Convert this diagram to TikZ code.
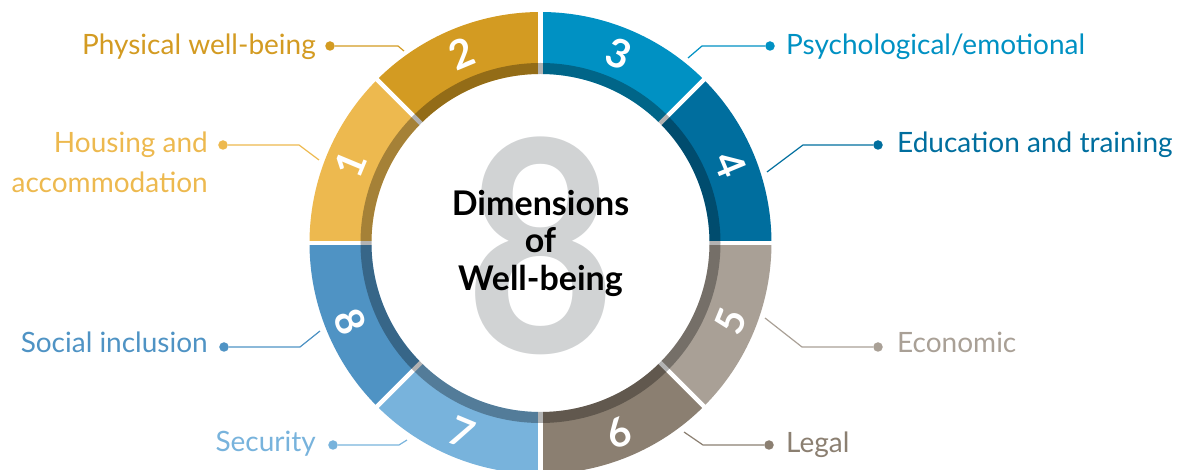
\documentclass[tikz,border=0pt]{standalone}
\usepackage{fontspec}
\setmainfont{Lato}
\usepackage{graphicx}
\definecolor{cOne}{HTML}{EDB94F}
\definecolor{cTwo}{HTML}{D39B22}
\definecolor{cThree}{HTML}{0091C3}
\definecolor{cFour}{HTML}{006E9E}
\definecolor{cFive}{HTML}{A9A096}
\definecolor{cSix}{HTML}{8B7F71}
\definecolor{cSeven}{HTML}{78B3DC}
\definecolor{cEight}{HTML}{4F93C4}
\definecolor{bigGray}{HTML}{D1D3D4}
\begin{document}
\begin{tikzpicture}[x=1pt,y=1pt,
  lbl/.style={font=\fontsize{28}{30}\selectfont, inner sep=0pt},
  digit/.style={text=white, font=\bfseries\fontsize{40}{40}\selectfont, inner sep=0pt},
  dot/.style={circle, fill, inner sep=0pt, minimum size=9.5pt},
  leader/.style={line width=1.2pt},
  gap/.style={white, line width=4.5pt}]
\useasboundingbox (-540.5,243) rectangle (639.5,-227);

% ring segments (outer radius 231, inner radius 169)
\foreach \a/\c in {135/cOne, 90/cTwo, 45/cThree, 0/cFour, -45/cFive, -90/cSix, -135/cSeven, -180/cEight}{
  \fill[\c] (\a:231) arc[start angle=\a, end angle=\a+45, radius=231]
    -- ({\a+45}:169) arc[start angle=\a+45, end angle=\a, radius=169] -- cycle;
}
% white gaps between segments
\foreach \a in {0,45,...,315}{
  \draw[gap] (\a:160) -- (\a:236);
}
% darker inner band
\fill[black, opacity=0.3, even odd rule] (0,0) circle[radius=180] (0,0) circle[radius=169];

% segment numbers
\node[digit, rotate=67.5]  (n1) at (157.5:205.5) {1};
\node[digit, rotate=22.5]  (n2) at (112.5:205.5) {2};
\node[digit, rotate=-22.5] (n3) at (67.5:205.5) {3};
\node[digit, rotate=-67.5] (n4) at (22.5:205.5) {4};
\node[digit, rotate=67.5]  (n5) at (-22.5:205.5) {5};
\node[digit, rotate=22.5]  (n6) at (-67.5:205.5) {6};
\node[digit, rotate=-22.5] (n7) at (-112.5:205.5) {7};
\node[digit, rotate=-67.5] (n8) at (-157.5:205.5) {8};

% centre
\node[text=bigGray, inner sep=0pt, font=\bfseries\fontsize{295}{295}\selectfont] (bigeight) at (0.5,-3) {\scalebox{0.88}[1]{8}};
\node[align=center, inner sep=0pt, font=\bfseries\fontsize{34}{37.5}\selectfont] (title) at (0,0) {Dimensions\\of\\Well-being};

% 1 Housing and accommodation
\node[dot, cOne] (d1) at (-317.5,98) {};
\coordinate (k1) at (-241.5,98);
\coordinate (e1) at (-221.5,83);
\draw[leader, cOne] (d1) -- (k1) -- (e1);
\node[lbl, text=cOne, anchor=base east] (t1a) at (-332.5,90) {Housing and};
\node[lbl, text=cOne, anchor=base east] (t1b) at (-332.5,50) {accommodation};

% 2 Physical well-being
\node[dot, cTwo] (d2) at (-210.5,197) {};
\coordinate (k2) at (-142.5,197);
\coordinate (e2) at (-136.5,192);
\draw[leader, cTwo] (d2) -- (k2) -- (e2);
\node[lbl, text=cTwo, anchor=base east] (t2) at (-224.5,188) {Physical well-being};

% 3 Psychological/emotional
\node[dot, cThree] (d3) at (229.5,197) {};
\coordinate (k3) at (161.5,197);
\coordinate (e3) at (147.5,185);
\draw[leader, cThree] (d3) -- (k3) -- (e3);
\node[lbl, text=cThree, anchor=base west] (t3) at (245.5,188) {Psychological/emotional};

% 4 Education and training
\node[dot, cFour] (d4) at (337.5,98) {};
\coordinate (k4) at (262.5,98);
\coordinate (e4) at (226.5,71);
\draw[leader, cFour] (d4) -- (k4) -- (e4);
\node[lbl, text=cFour, anchor=base west] (t4) at (356.5,90) {Education and training};

% 5 Economic
\node[dot, cFive] (d5) at (337.5,-104) {};
\coordinate (k5) at (261.5,-104);
\coordinate (e5) at (224.5,-75);
\draw[leader, cFive] (d5) -- (k5) -- (e5);
\node[lbl, text=cFive, anchor=base west] (t5) at (356.5,-110) {Economic};

% 6 Legal
\node[dot, cSix] (d6) at (228.5,-202) {};
\coordinate (k6) at (162.5,-202);
\coordinate (e6) at (143.5,-189);
\draw[leader, cSix] (d6) -- (k6) -- (e6);
\node[lbl, text=cSix, anchor=base west] (t6) at (245.5,-210) {Legal};

% 7 Security
\node[dot, cSeven] (d7) at (-207.5,-202) {};
\coordinate (k7) at (-141.5,-202);
\coordinate (e7) at (-133.5,-197);
\draw[leader, cSeven] (d7) -- (k7) -- (e7);
\node[lbl, text=cSeven, anchor=base east] (t7) at (-224.5,-209) {Security};

% 8 Social inclusion
\node[dot, cEight] (d8) at (-316.5,-104) {};
\coordinate (k8) at (-240.5,-104);
\coordinate (e8) at (-220.5,-88);
\draw[leader, cEight] (d8) -- (k8) -- (e8);
\node[lbl, text=cEight, anchor=base east] (t8) at (-332.5,-110) {Social inclusion};
\end{tikzpicture}
\end{document}
